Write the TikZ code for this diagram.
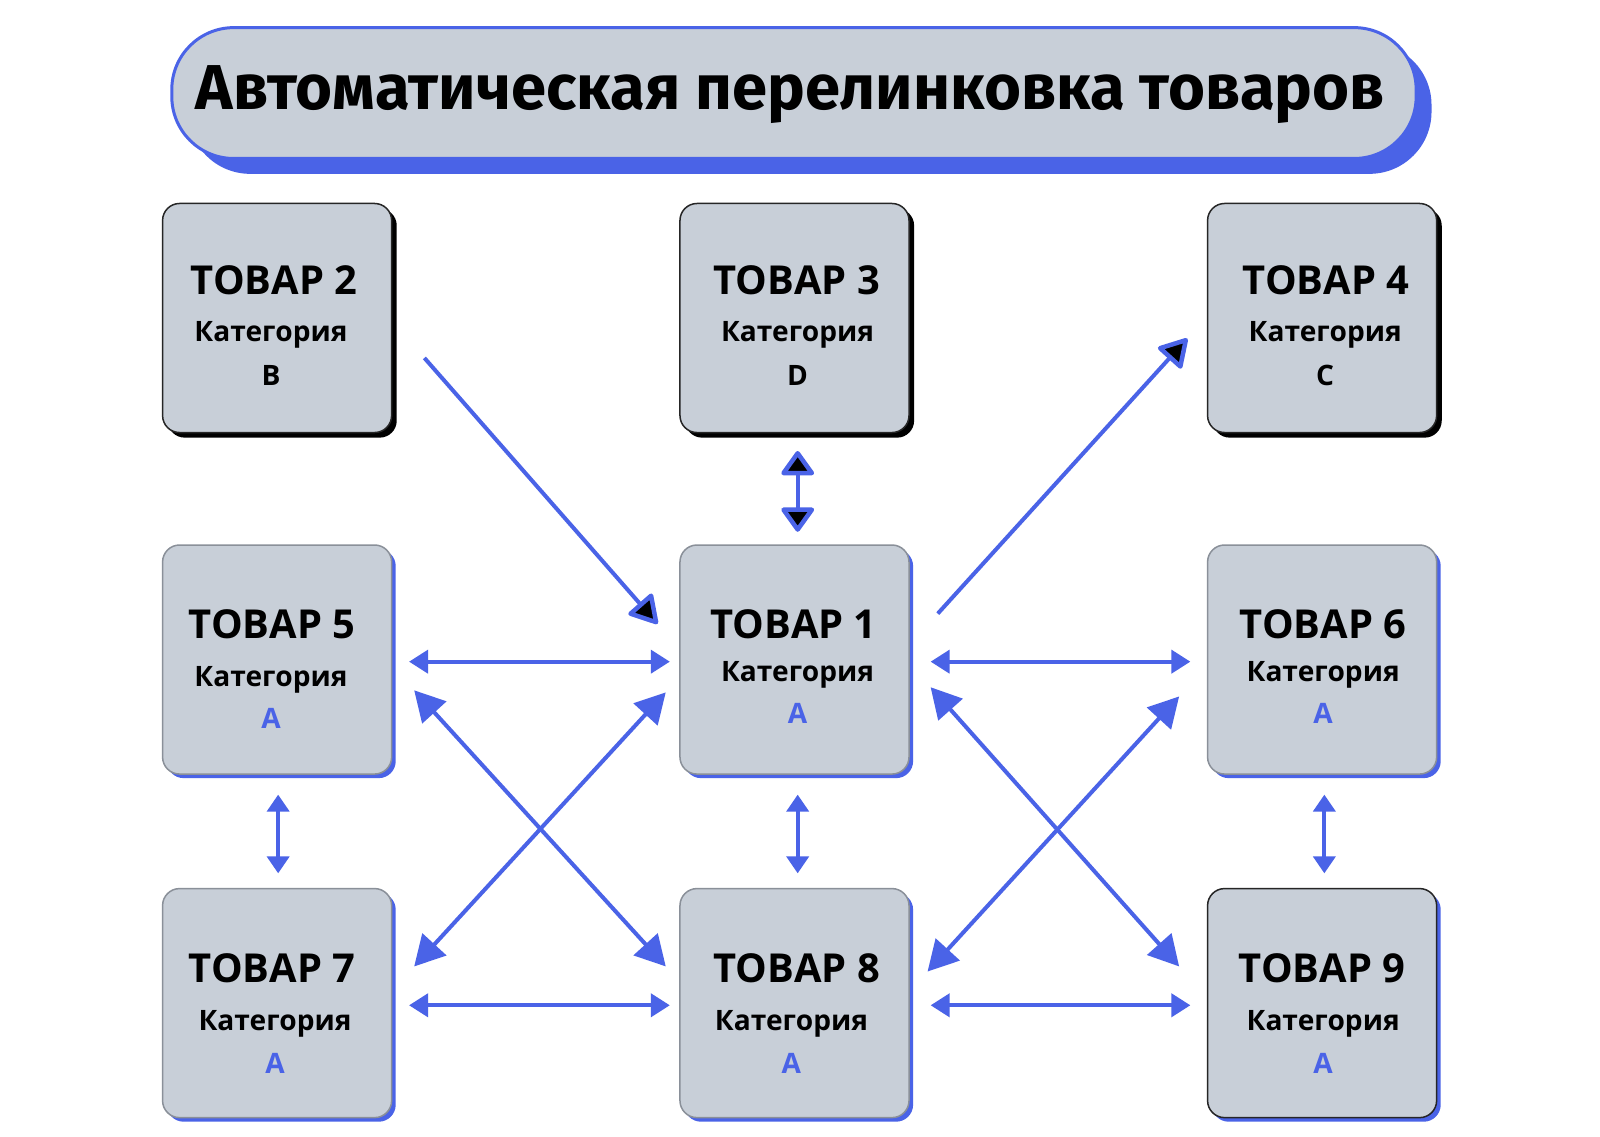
\documentclass[tikz,border=0pt]{standalone}
\usepackage{fontspec}
\setmainfont{Open Sans}
\newfontfamily\titlefont{Fira Sans}
\usetikzlibrary{arrows.meta,calc}
\definecolor{bblue}{HTML}{4A63E7}
\definecolor{bgrey}{HTML}{C8CFD8}
\definecolor{bedge}{HTML}{8A9099}
\begin{document}
\begin{tikzpicture}[x=1pt,y=-1pt,
  boxbase/.style={fill=bgrey, rounded corners=17pt, minimum width=224pt, minimum height=224pt, line width=1.5pt},
  topbox/.style={boxbase, draw=black!85},
  midbox/.style={boxbase, draw=bedge},
  darkbox/.style={boxbase, draw=black!85},
  shadowbox/.style={rounded corners=17pt, minimum width=224pt, minimum height=224pt, inner sep=0pt},
  nametext/.style={font=\fontsize{39}{39}\selectfont\bfseries, text=black},
  cattext/.style={font=\fontsize{27.5}{27.5}\selectfont\bfseries, text=black},
  lettext/.style={font=\fontsize{27.5}{27.5}\selectfont\bfseries, text=black},
  alettext/.style={font=\fontsize{27.5}{27.5}\selectfont\bfseries, text=bblue},
  link/.style={draw=bblue, line width=4pt},
  hsmall/.style={link, {Triangle[length=19pt,width=23pt]}-{Triangle[length=19pt,width=23pt]}},
  vsmall/.style={link, {Triangle[length=17pt,width=22pt]}-{Triangle[length=17pt,width=22pt]}},
  dbig/.style={link, {Triangle[length=30pt,width=32pt]}-{Triangle[length=30pt,width=32pt]}},
  blackone/.style={link, -{Triangle[length=30pt,width=34pt,fill=black,round,line width=4.5pt]}},
  blacktwo/.style={link, {Triangle[length=26pt,width=36pt,fill=black,round,line width=4.5pt]}-{Triangle[length=26pt,width=36pt,fill=black,round,line width=4.5pt]}},
]
\useasboundingbox (0,0) rectangle (1600,1136);
\fill[white] (0,0) rectangle (1640,1170);
\begin{scope}[scale=1.0225, transform shape]

% title
\fill[bblue, rounded corners=62pt] (184,42) rectangle (1400,170);
\draw[bblue, line width=3pt, fill=bgrey, rounded corners=62pt] (168,27) rectangle (1385,155);
\node[font=\titlefont\fontsize{62}{62}\selectfont\bfseries] (title) at (773,92) {Автоматическая перелинковка товаров};

% shadows
\node[shadowbox, fill=black] (s2) at (276,316) {};
\node[shadowbox, fill=black] (s3) at (782,316) {};
\node[shadowbox, fill=black] (s4) at (1298,316) {};
\node[shadowbox, fill=bblue] (s5) at (275,649) {};
\node[shadowbox, fill=bblue] (s1) at (781,649) {};
\node[shadowbox, fill=bblue] (s6) at (1297,649) {};
\node[shadowbox, fill=bblue] (s7) at (275,985) {};
\node[shadowbox, fill=bblue] (s8) at (781,985) {};
\node[shadowbox, fill=bblue] (s9) at (1297,985) {};

% boxes
\node[topbox] (b2) at (271,311) {};
\node[topbox] (b3) at (777,311) {};
\node[topbox] (b4) at (1293,311) {};
\node[midbox] (b5) at (271,645) {};
\node[midbox] (b1) at (777,645) {};
\node[midbox] (b6) at (1293,645) {};
\node[midbox] (b7) at (271,981) {};
\node[midbox] (b8) at (777,981) {};
\node[darkbox] (b9) at (1293,981) {};

% texts
\node[nametext] (t2) at (268,274) {ТОВАР 2};
\node[cattext] (c2) at (265,327) {Категория};
\node[lettext] (l2) at (265,367) {B};
\node[nametext] (t3) at (779,274) {ТОВАР 3};
\node[cattext] (c3) at (780,327) {Категория};
\node[lettext] (l3) at (780,367) {D};
\node[nametext] (t4) at (1297,274) {ТОВАР 4};
\node[cattext] (c4) at (1296,327) {Категория};
\node[lettext] (l4) at (1296,367) {C};
\node[nametext] (t5) at (266,610) {ТОВАР 5};
\node[cattext] (c5) at (265,665) {Категория};
\node[alettext] (l5) at (265,703) {A};
\node[nametext] (t1) at (776,610) {ТОВАР 1};
\node[cattext] (c1) at (780,660) {Категория};
\node[alettext] (l1) at (780,698) {A};
\node[nametext] (t6) at (1294,610) {ТОВАР 6};
\node[cattext] (c6) at (1294,660) {Категория};
\node[alettext] (l6) at (1294,698) {A};
\node[nametext] (t7) at (266,947) {ТОВАР 7};
\node[cattext] (c7) at (269,1001) {Категория};
\node[alettext] (l7) at (269,1040) {A};
\node[nametext] (t8) at (779,947) {ТОВАР 8};
\node[cattext] (c8) at (774,1001) {Категория};
\node[alettext] (l8) at (774,1040) {A};
\node[nametext] (t9) at (1293,947) {ТОВАР 9};
\node[cattext] (c9) at (1294,1001) {Категория};
\node[alettext] (l9) at (1294,1040) {A};

% connector end points
\coordinate (a21s) at (415,350);  \coordinate (a21e) at (643,610);
\coordinate (a31s) at (780,441);  \coordinate (a31e) at (780,520);
\coordinate (a14s) at (917,600);  \coordinate (a14e) at (1161,331);
\coordinate (h51s) at (400,647);  \coordinate (h51e) at (655,647);
\coordinate (d58s) at (405,675);  \coordinate (d58e) at (651,945);
\coordinate (d17s) at (651,677);  \coordinate (d17e) at (405,945);
\coordinate (v57s) at (272,777);  \coordinate (v57e) at (272,854);
\coordinate (v18s) at (780,777);  \coordinate (v18e) at (780,854);
\coordinate (v69s) at (1295,777); \coordinate (v69e) at (1295,854);
\coordinate (h78s) at (400,983);  \coordinate (h78e) at (655,983);
\coordinate (h16s) at (910,647);  \coordinate (h16e) at (1164,647);
\coordinate (d19s) at (910,672);  \coordinate (d19e) at (1153,945);
\coordinate (d68s) at (1153,681); \coordinate (d68e) at (907,950);
\coordinate (h89s) at (910,983);  \coordinate (h89e) at (1164,983);

\draw[blackone] (a21s) -- (a21e);
\draw[blacktwo] (a31s) -- (a31e);
\draw[blackone] (a14s) -- (a14e);
\draw[hsmall] (h51s) -- (h51e);
\draw[dbig] (d58s) -- (d58e);
\draw[dbig] (d17s) -- (d17e);
\draw[vsmall] (v57s) -- (v57e);
\draw[vsmall] (v18s) -- (v18e);
\draw[vsmall] (v69s) -- (v69e);
\draw[hsmall] (h78s) -- (h78e);
\draw[hsmall] (h16s) -- (h16e);
\draw[dbig] (d19s) -- (d19e);
\draw[dbig] (d68s) -- (d68e);
\draw[hsmall] (h89s) -- (h89e);
\end{scope}
\end{tikzpicture}
\end{document}
